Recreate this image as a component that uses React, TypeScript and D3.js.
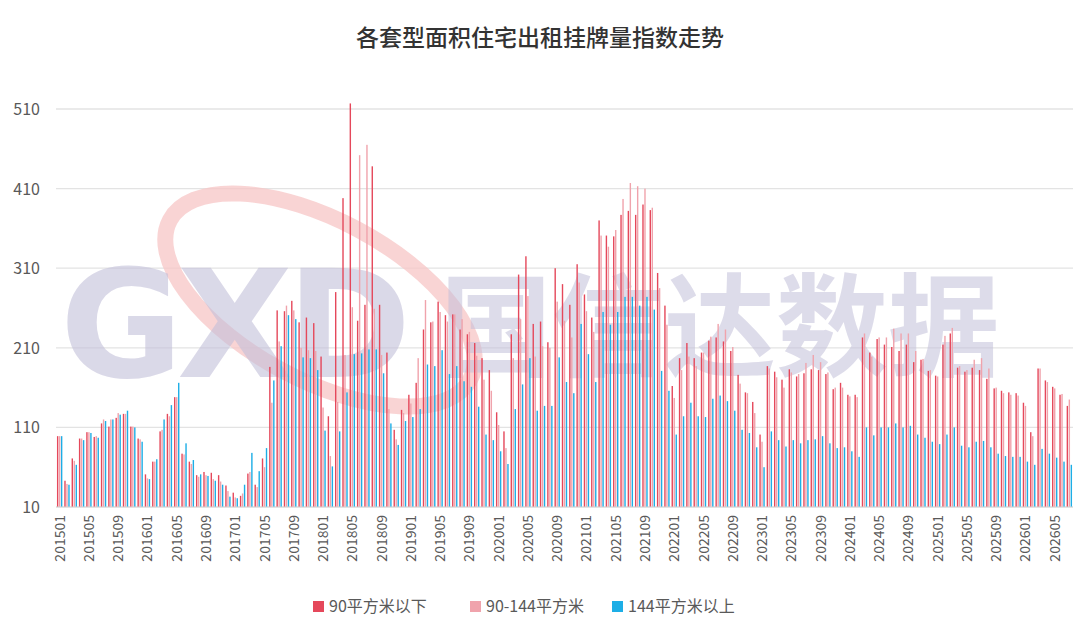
import { useEffect, useRef } from 'react';
import * as d3 from 'd3';

// monthly index values, 201501 .. 202607
const below90 = [
  99, 43, 71, 96, 104, 98, 115, 111, 122, 127, 111, 96,
  51, 67, 105, 127, 148, 77, 67, 50, 54, 53, 50, 37,
  28, 24, 52, 38, 71, 186, 257, 256, 269, 242, 248, 241,
  199, 124, 280, 398, 517, 244, 264, 438, 264, 204, 107, 132,
  151, 166, 233, 242, 268, 251, 252, 233, 227, 216, 197, 182,
  129, 105, 227, 302, 325, 240, 243, 217, 310, 290, 264, 315,
  277, 248, 370, 351, 350, 377, 382, 377, 390, 383, 304, 263,
  162, 197, 216, 197, 204, 219, 223, 218, 206, 176, 154, 142,
  101, 187, 180, 170, 183, 174, 178, 183, 182, 177, 158, 166,
  151, 151, 223, 204, 221, 214, 211, 206, 214, 192, 195, 181,
  175, 214, 228, 185, 180, 185, 182, 171, 159, 156, 154, 153,
  141, 104, 184, 169, 161, 151, 137,
];
const mid90to144 = [
  99, 39, 68, 96, 104, 99, 120, 120, 128, 127, 111, 95,
  46, 67, 107, 124, 148, 76, 64, 48, 50, 45, 42, 30,
  22, 27, 54, 35, 60, 141, 218, 263, 257, 210, 207, 206,
  135, 74, 142, 201, 261, 452, 465, 259, 201, 133, 95, 128,
  140, 197, 270, 243, 255, 243, 252, 246, 230, 200, 170, 156,
  113, 84, 197, 246, 275, 199, 212, 210, 268, 244, 223, 292,
  256, 230, 351, 337, 358, 397, 417, 413, 410, 386, 285, 239,
  147, 182, 199, 187, 204, 224, 240, 233, 211, 165, 153, 128,
  92, 184, 173, 160, 179, 177, 191, 201, 192, 179, 160, 160,
  149, 148, 228, 199, 223, 223, 234, 228, 228, 206, 196, 182,
  174, 225, 235, 187, 182, 195, 197, 184, 160, 153, 151, 150,
  137, 99, 184, 167, 159, 152, 145,
];
const above144 = [
  99, 38, 63, 94, 103, 97, 118, 120, 126, 131, 110, 92,
  45, 70, 120, 138, 166, 90, 69, 51, 49, 43, 38, 23,
  21, 38, 78, 55, 84, 169, 212, 251, 246, 198, 197, 182,
  106, 61, 105, 154, 202, 203, 208, 208, 178, 115, 88, 118,
  123, 133, 189, 187, 207, 177, 187, 168, 161, 136, 101, 94,
  80, 64, 133, 164, 197, 131, 137, 137, 198, 167, 153, 240,
  202, 167, 255, 239, 255, 274, 274, 263, 274, 258, 181, 156,
  101, 124, 141, 124, 123, 146, 150, 143, 131, 107, 103, 85,
  60, 105, 94, 86, 94, 90, 94, 95, 99, 90, 84, 85,
  80, 73, 110, 100, 110, 110, 115, 110, 112, 101, 97, 92,
  89, 101, 110, 87, 85, 92, 93, 85, 77, 74, 73, 73,
  67, 63, 83, 77, 72, 67, 63,
];
const months: string[] = [];
for (let y = 2015; y <= 2026; y++) {
  for (let m = 1; m <= 12; m++) {
    if (months.length < below90.length) months.push(`${y}${String(m).padStart(2, '0')}`);
  }
}
const seriesNames = ['90平方米以下', '90-144平方米', '144平方米以上'];
const colors = ['#E5485B', '#F0A3AC', '#1DAEE6'];
const yTicks = [10, 110, 210, 310, 410, 510];

export default function App() {
  const svgRef = useRef<SVGSVGElement>(null);

  useEffect(() => {
    if (!svgRef.current) return;
    const svg = d3.select(svgRef.current);
    svg.selectAll('*').remove();
    const width = 1080, height = 643;
    const left = 56, right = 1073, top = 109, bottom = 507;
    const font = '"Noto Sans CJK SC", "Noto Sans", sans-serif';

    svg.append('rect').attr('width', width).attr('height', height).attr('fill', '#fff');

    const x = d3.scaleBand<string>().domain(months).range([left, right]).paddingInner(0.1).paddingOuter(0.05);
    const y = d3.scaleLinear().domain([10, 510]).range([bottom, top]);
    const inner = d3.scaleBand<number>().domain([0, 1, 2]).range([0, x.bandwidth()]).padding(0.3);

    // gridlines
    svg.append('g').selectAll('line').data(yTicks).join('line')
      .attr('x1', left).attr('x2', right)
      .attr('y1', d => y(d)).attr('y2', d => y(d))
      .attr('stroke', '#e3e3e3').attr('stroke-width', 1.3);

    // watermark
    const wm = svg.append('g').attr('pointer-events', 'none');
    wm.append('ellipse').attr('cx', 320).attr('cy', 300).attr('rx', 170).attr('ry', 80)
      .attr('transform', 'rotate(28 320 300)')
      .attr('fill', 'none').attr('stroke', '#f7c6c6').attr('stroke-width', 16).attr('opacity', 0.75);
    wm.append('text').attr('x', 60).attr('y', 377).attr('font-family', 'Arial Black, "DejaVu Sans", sans-serif')
      .attr('font-weight', 900).attr('font-size', 150).attr('fill', '#c3c0da').attr('opacity', 0.6)
      .attr('letter-spacing', -6).text('GXD');
    wm.append('text').attr('x', 440).attr('y', 368).attr('font-family', font)
      .attr('font-weight', 700).attr('font-size', 112).attr('fill', '#c3c0da').attr('opacity', 0.55)
      .text('国信达数据');

    const all = [below90, mid90to144, above144];
    all.forEach((vals, si) => {
      svg.append('g').selectAll('rect').data(vals).join('rect')
        .attr('x', (_, i) => x(months[i])! + inner(si)!)
        .attr('width', inner.bandwidth())
        .attr('y', d => y(d))
        .attr('height', d => bottom - y(d))
        .attr('fill', colors[si]);
    });

    // baseline
    svg.append('line').attr('x1', left).attr('x2', right).attr('y1', bottom).attr('y2', bottom)
      .attr('stroke', '#d9d9d9').attr('stroke-width', 1);

    // y labels
    svg.append('g').selectAll('text').data(yTicks).join('text')
      .attr('x', 40).attr('y', d => y(d) + 6).attr('text-anchor', 'end')
      .attr('font-family', font).attr('font-size', 16).attr('fill', '#595959')
      .text(d => d);

    // x labels
    svg.append('g').selectAll('text').data(months.filter((_, i) => i % 4 === 0)).join('text')
      .attr('transform', d => `translate(${x(d)! + x.bandwidth() / 2 + 5},${bottom + 8}) rotate(-90)`)
      .attr('text-anchor', 'end')
      .attr('font-family', font).attr('font-size', 14).attr('fill', '#595959')
      .text(d => d);

    // title
    svg.append('text').attr('x', width / 2).attr('y', 46).attr('text-anchor', 'middle')
      .attr('font-family', font).attr('font-size', 23).attr('font-weight', 500).attr('fill', '#333')
      .text('各套型面积住宅出租挂牌量指数走势');

    // legend
    const legendX = [313, 470, 612];
    seriesNames.forEach((name, i) => {
      const g = svg.append('g').attr('transform', `translate(${legendX[i]},612)`);
      g.append('rect').attr('x', 0).attr('y', -11).attr('width', 11).attr('height', 11).attr('fill', colors[i]);
      g.append('text').attr('x', 16).attr('y', 0).attr('font-family', font).attr('font-size', 16)
        .attr('fill', '#595959').text(name);
    });
  }, []);

  return (
    <svg ref={svgRef} width={1080} height={643}
      style={{ position: 'absolute', left: 0, top: 0, display: 'block' }} />
  );
}
